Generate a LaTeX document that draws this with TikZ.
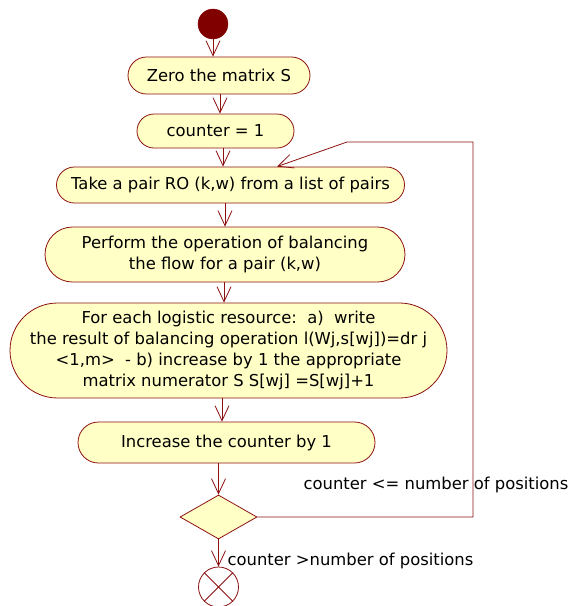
\documentclass[tikz,border=0pt]{standalone}
\usepackage{fontspec}
\setmainfont{DejaVu Sans}
\usetikzlibrary{arrows.meta,shapes.geometric,calc}
\definecolor{brd}{RGB}{140,16,16}
\definecolor{fil}{RGB}{255,255,198}
\definecolor{startc}{RGB}{128,0,0}
\begin{document}
\begin{tikzpicture}[x=1pt,y=-1pt,
  box/.style={draw=brd, fill=fil, line width=0.8pt, inner sep=0pt, align=center,
    font=\fontsize{16.4}{20.7}\selectfont},
  arr/.style={draw=brd, line width=0.8pt, -{Straight Barb[length=15pt,width=14pt,line width=0.8pt]}},
  lbl/.style={font=\fontsize{16.4}{20}\selectfont, inner sep=0pt}]
\useasboundingbox (0,0) rectangle (571,606);
\node[circle, fill=startc, draw=startc, minimum size=30pt, inner sep=0pt] (start) at (213,24) {};
\node[box, minimum width=182pt, minimum height=37pt, rounded corners=18.5pt] (zero) at (219,75.5) {Zero the matrix S};
\node[box, minimum width=157pt, minimum height=34pt, rounded corners=17pt] (cnt) at (215.5,131) {counter = 1};
\node[box, minimum width=348pt, minimum height=36pt, rounded corners=18pt] (take) at (230.5,185) {Take a pair RO (k,w) from a list of pairs};
\node[box, minimum width=360pt, minimum height=55pt, rounded corners=27.5pt] (perf) at (225,254.5) {Perform the operation of balancing\\the flow for a pair (k,w)};
\node[box, minimum width=437pt, minimum height=95pt, rounded corners=47.5pt] (each) at (228.5,350.5) {For each logistic resource:\ \ a)\ \ write\\the result of balancing operation l(Wj,s[wj])=dr j\\<1,m>\ \ - b) increase by 1 the appropriate\\matrix numerator S S[wj] =S[wj]+1};
\node[box, minimum width=297pt, minimum height=41pt, rounded corners=20.5pt] (inc) at (226.5,442.5) {Increase the counter by 1};
\node[diamond, draw=brd, fill=fil, line width=0.8pt, minimum width=77pt, minimum height=44pt, inner sep=0pt] (dec) at (218.5,517) {};
\node[circle, draw=brd, fill=white, line width=0.8pt, minimum size=40pt, inner sep=0pt] (stop) at (218.5,587) {};
\draw[brd, line width=0.8pt] (stop.north west) -- (stop.south east) (stop.north east) -- (stop.south west);
\draw[arr] (start.south) -- (zero.north -| start.south);
\draw[arr] (zero.south -| 220,0) -- (cnt.north -| 220,0);
\draw[arr] (cnt.south -| 223,0) -- (take.north -| 223,0);
\draw[arr] (take.south -| 225,0) -- (perf.north -| 225,0);
\draw[arr] (perf.south -| 224,0) -- (each.north -| 224,0);
\draw[arr] (each.south -| 222,0) -- (inc.north -| 222,0);
\draw[arr] (inc.south -| dec.north) -- (dec.north);
\draw[arr] (dec.south) -- (stop.north);
\coordinate (r1) at (473,517);
\coordinate (r2) at (473,142);
\coordinate (r3) at (347,142);
\draw[arr] (dec.east) -- (r1) -- (r2) -- (r3) -- ($(take.north)+(46.5,0)$);
\node[lbl] (l1) at (436,485) {counter <= number of positions};
\node[lbl] (l2) at (350.5,561) {counter >number of positions};
\end{tikzpicture}
\end{document}
